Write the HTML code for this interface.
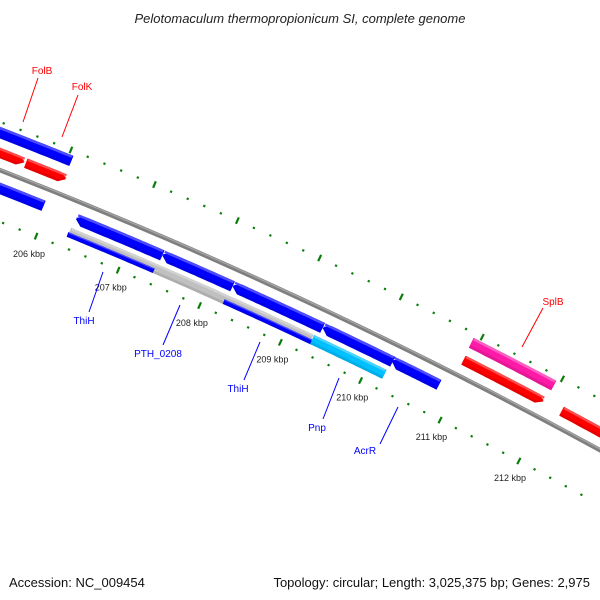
<!DOCTYPE html>
<html><head><meta charset="utf-8"><style>
body{margin:0;background:#fff}
svg{display:block;font-family:"Liberation Sans","DejaVu Sans",sans-serif}
</style></head><body>
<svg id="map" width="600" height="600" viewBox="0 0 600 600">
<text x="300" y="23" text-anchor="middle" font-size="13" font-style="italic" fill="#222">Pelotomaculum thermopropionicum SI, complete genome</text>
<g id="ticks"></g>
<g id="backbone"></g>
<g id="genes"></g>
<g id="labels"></g>
<text x="9" y="587" font-size="13" fill="#111">Accession: NC_009454</text>
<text x="590" y="587" font-size="13" fill="#111" text-anchor="end">Topology: circular; Length: 3,025,375 bp; Genes: 2,975</text>
</svg>
<script>
// Gene data (kbp)
const geneNames=["outer-blue-1","FolB","FolK","inner-blue-1","inner-blue-2","inner-blue-3","inner-blue-4","inner-blue-5","AcrR","PTH_0208","ThiH","ThiH","Pnp","SplB","red-gene-splb","red-gene-3"];
const geneStarts=[204.0,204.0,205.59,204.0,206.34,207.39,208.25,209.36,210.22,206.33,206.32,208.23,209.31,210.92,210.93,212.16];
const geneEnds=[206.05,205.57,206.07,205.95,207.39,208.25,209.36,210.23,210.81,209.30,207.37,209.33,210.21,211.95,211.93,214.0];
const geneTracks=["o2","o1","o1","i1","i1","i1","i1","i1","i1","i2","i2b","i2b","i2","o2","o1","o1"];
const geneColors=["#0000ff","#ff0000","#ff0000","#0000ff","#0000ff","#0000ff","#0000ff","#0000ff","#0000ff","#c0c0c0","#0000ff","#0000ff","#00c0ff","#ff1aa8","#ff0000","#ff0000"];
const geneArrows=[0,1,1,0,-1,-1,-1,-1,-1,0,0,0,0,0,1,0];
const tickMajors=[205,206,207,208,209,210,211,212];
const tickLabels=["205 kbp","206 kbp","207 kbp","208 kbp","209 kbp","210 kbp","211 kbp","212 kbp"];

const CX=-1889, CY=5001, RB=5187, A0=-68.0, DEG=0.990;
const trackR={o2:RB+35,o1:RB+16,i1:RB-17,i2:RB-32,i2b:RB-34.5};
const trackT={o2:11,o1:10,i1:11,i2:10,i2b:5};
const NS="http://www.w3.org/2000/svg";
function ang(k){return (A0+(k-206)*DEG)*Math.PI/180;}
function pt(k,r){const a=ang(k);return [CX+r*Math.cos(a),CY+r*Math.sin(a)];}
function arcPts(k1,k2,r){const p=[];const n=30;for(let i=0;i<=n;i++){p.push(pt(k1+(k2-k1)*i/n,r));}return p;}
function mk(tag,attrs,parent){const e=document.createElementNS(NS,tag);for(const k in attrs)e.setAttribute(k,attrs[k]);parent.appendChild(e);return e;}
function bandPath(k1,k2,r,t,arrow){
  const ro=r+t/2, ri=r-t/2, ah=0.08;
  let s=k1,e=k2;
  if(arrow===1)e=k2-ah; if(arrow===-1)s=k1+ah;
  let pts=arcPts(s,e,ro);
  if(arrow===1)pts.push(pt(k2,r));
  pts=pts.concat(arcPts(e,s,ri));
  if(arrow===-1)pts.push(pt(k1,r));
  return "M"+pts.map(p=>p[0].toFixed(1)+","+p[1].toFixed(1)).join("L")+"Z";
}
function shade(c,f){const n=parseInt(c.slice(1),16);let r=n>>16,g=(n>>8)&255,b=n&255;
  if(f>0){r+=(255-r)*f;g+=(255-g)*f;b+=(255-b)*f}else{r*=1+f;g*=1+f;b*=1+f}
  return "rgb("+[r,g,b].map(Math.round).join(",")+")";}

// ticks
const tg=document.getElementById("ticks");
[[RB+45,214],[RB-48,212.8]].forEach(function(rr){
  for(let k=204.0;k<=rr[1]+0.001;k+=0.2){
    const kk=Math.round(k*10)/10;
    const major=Math.abs(kk-Math.round(kk))<0.01;
    const len=major?7:2.2;
    const p1=pt(kk,rr[0]-len/2),p2=pt(kk,rr[0]+len/2);
    const l=mk("line",{x1:p1[0],y1:p1[1],x2:p2[0],y2:p2[1],stroke:"#0a7d0a","stroke-width":2.2},tg);
    
    
  }
});
tickMajors.forEach(function(k,i){
  const p=pt(k,RB-67);
  const t=mk("text",{x:p[0],y:p[1]+3,"font-size":9,"text-anchor":"middle",fill:"#222"},tg);
  t.textContent=tickLabels[i];
  
  
});

// backbone
const bg=document.getElementById("backbone");
const bp="M"+arcPts(204.0,214.0,RB).map(p=>p[0].toFixed(1)+","+p[1].toFixed(1)).join("L");
const b1=mk("path",{d:bp,fill:"none",stroke:"#7f7f7f","stroke-width":4.5},bg);


const b2=mk("path",{d:"M"+arcPts(204.0,214.0,RB+1).map(p=>p[0].toFixed(1)+","+p[1].toFixed(1)).join("L"),fill:"none",stroke:"#a8a8a8","stroke-width":1.2},bg);



// genes
const gg=document.getElementById("genes");
geneNames.forEach(function(n,i){
  const tr=geneTracks[i];
  const r=trackR[tr];
  const t=trackT[tr];
  const g=mk("g",{},gg);
  
  
  mk("path",{d:bandPath(geneStarts[i],geneEnds[i],r,t,geneArrows[i]),fill:shade(geneColors[i],-0.1)},g);
  mk("path",{d:bandPath(geneStarts[i],geneEnds[i],r+t*0.12,t*0.7,geneArrows[i]),fill:geneColors[i]},g);
  mk("path",{d:bandPath(geneStarts[i]+0.01,geneEnds[i]-0.01,r+t*0.38,t*0.22,0),fill:shade(geneColors[i],0.3)},g);
});

// labels
const lg=document.getElementById("labels");
const labs=[["FolB",42,74,"#ff0000",38,78,23,122],["FolK",82,90,"#ff0000",78,95,62,137],
["ThiH",84,324,"#0000ff",103,272,89,312],["PTH_0208",158,357,"#0000ff",180,305,163,345],
["ThiH",238,392,"#0000ff",260,342,244,380],["Pnp",317,431,"#0000ff",339,378,323,419],
["AcrR",365,454,"#0000ff",398,407,380,444],["SplB",553,305,"#ff0000",543,308,522,347]];
labs.forEach(function(L){
  const l=mk("line",{x1:L[4],y1:L[5],x2:L[6],y2:L[7],stroke:L[3],"stroke-width":1},lg);
  
  
  const t=mk("text",{x:L[1],y:L[2],"font-size":10,"text-anchor":"middle",fill:L[3]},lg);
  t.textContent=L[0];
  
  
});
</script>
</body></html>
